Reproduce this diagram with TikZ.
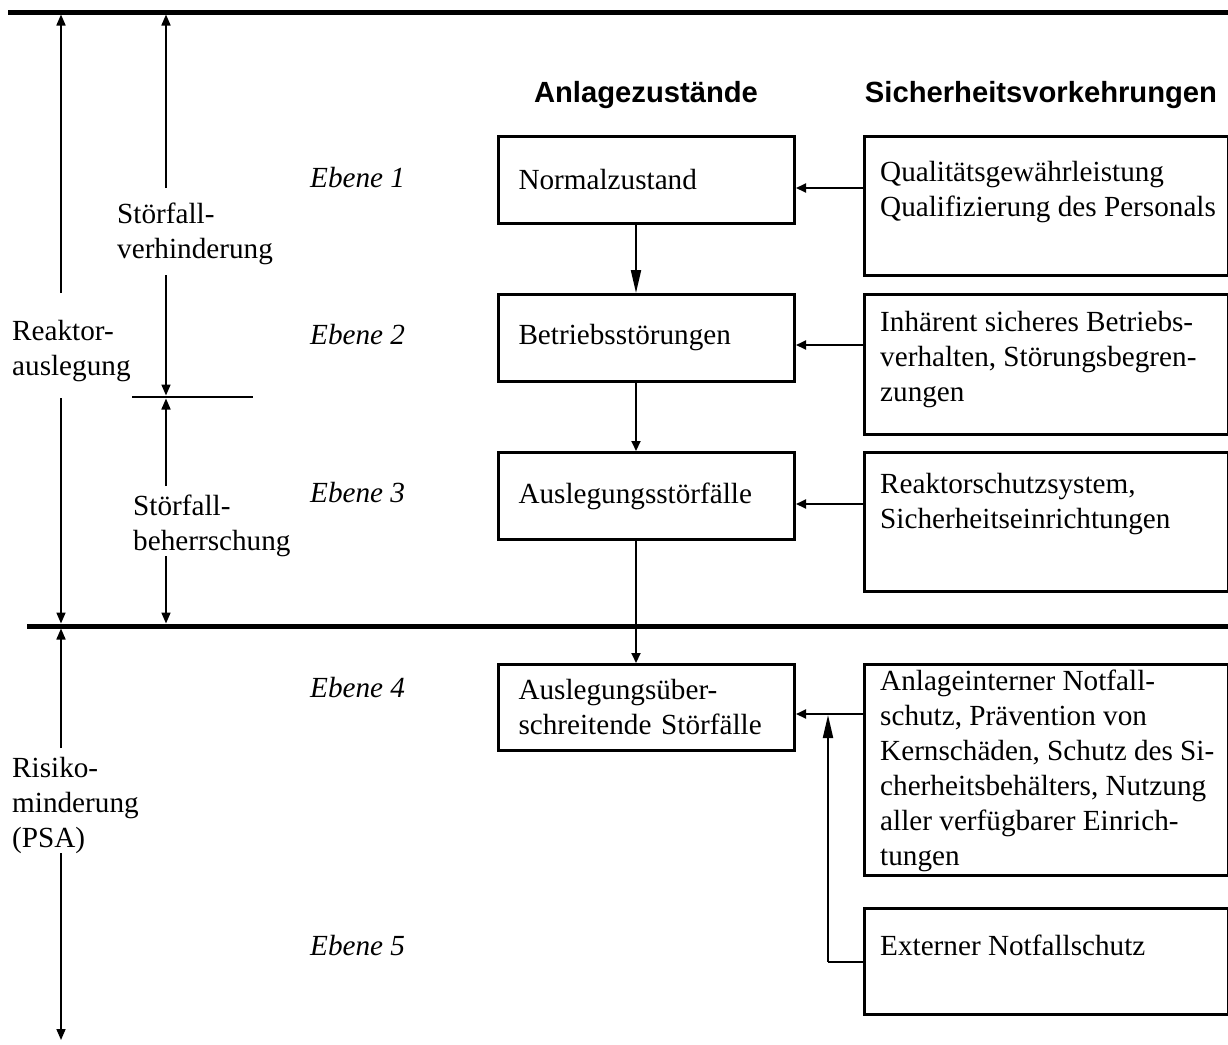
\documentclass[tikz,border=0pt]{standalone}
\usepackage{fontspec}
\setmainfont{Liberation Serif}
\setsansfont{Liberation Sans}
\usetikzlibrary{arrows.meta}
\newcommand{\fsz}{\fontsize{29.2}{35}\selectfont}

\begin{document}
\begin{tikzpicture}[
  x=1pt, y=-1pt,
  zbox/.style={draw, line width=3pt, anchor=north west, minimum width=296pt,
    minimum height=87pt, text width=256pt, inner xsep=20pt, align=left, font=\fsz},
  rbox/.style={draw, line width=3pt, anchor=north west, minimum width=364pt, inner sep=0pt},
  rtxt/.style={anchor=north west, align=left, inner sep=0pt, xshift=17pt, font=\fsz},
  lab/.style={anchor=north west, align=left, inner sep=0pt, font=\fsz},
  ebene/.style={anchor=base west, inner sep=0pt, font=\fsz\itshape},
  kopf/.style={anchor=base, inner sep=0pt, font=\fsz\sffamily\bfseries},
  dim/.style={line width=1.7pt, -{Triangle[length=11pt,width=9pt]}},
  flow/.style={line width=2pt, -{Triangle[length=10pt,width=9pt]}},
  flowl/.style={line width=2pt, -{Triangle[length=23pt,width=10pt]}}
]
\useasboundingbox (0,0) rectangle (1228,1044);

% Trennlinien
\draw[line width=5pt] (8,12) -- (1228,12);
\draw[line width=5pt] (27,626) -- (1228,626);
\draw[line width=2pt] (132,397) -- (253,397);

% Spaltenkoepfe
\node[kopf] (hz) at (646,102) {Anlagezustände};
\node[kopf] (hs) at (1041,102) {Sicherheitsvorkehrungen};

% Ebenen
\node[ebene] (e1) at (310,187) {Ebene 1};
\node[ebene] (e2) at (310,344) {Ebene 2};
\node[ebene] (e3) at (310,502) {Ebene 3};
\node[ebene] (e4) at (310,697) {Ebene 4};
\node[ebene] (e5) at (310,955) {Ebene 5};

% Anlagezustaende
\node[zbox] (b1) at (497,135) {Normalzustand};
\node[zbox] (b2) at (497,293) {Betriebsstörungen};
\node[zbox] (b3) at (497,451) {Auslegungsstörfälle};
\node[zbox, minimum height=86pt] (b4) at (497,663) {Auslegungsüber-\\schreitende Störfälle};

% Sicherheitsvorkehrungen
\node[rbox, minimum height=139pt,
  label={[rtxt, yshift=-26pt]north west:{Qualitätsgewährleistung\\Qualifizierung des Personals}}] (r1) at (863,135) {};
\node[rbox, minimum height=140pt,
  label={[rtxt, yshift=-18pt]north west:{Inhärent sicheres Betriebs-\\verhalten, Störungsbegren-\\zungen}}] (r2) at (863,293) {};
\node[rbox, minimum height=139pt,
  label={[rtxt, yshift=-22pt]north west:{Reaktorschutzsystem,\\Sicherheitseinrichtungen}}] (r3) at (863,451) {};
\node[rbox, minimum height=211pt,
  label={[rtxt, yshift=-7pt]north west:{Anlageinterner Notfall-\\schutz, Prävention von\\Kernschäden, Schutz des Si-\\cherheitsbehälters, Nutzung\\aller verfügbarer Einrich-\\tungen}}] (r4) at (863,663) {};
\node[rbox, minimum height=106pt,
  label={[rtxt, yshift=-28pt]north west:{Externer Notfallschutz}}] (r5) at (863,907) {};

% Pfeilhoehen
\coordinate (fx) at (636,0);
\coordinate (a1) at (0,188);
\coordinate (a2) at (0,345);
\coordinate (a3) at (0,504);
\coordinate (a4) at (0,714);
\coordinate (kx) at (828,0);

\draw[flowl] (b1.south -| fx) -- (b2.north -| fx);
\draw[flow] (b2.south -| fx) -- (b3.north -| fx);
\draw[flow] (b3.south -| fx) -- (b4.north -| fx);

\draw[flow] (r1.west |- a1) -- (b1.east |- a1);
\draw[flow] (r2.west |- a2) -- (b2.east |- a2);
\draw[flow] (r3.west |- a3) -- (b3.east |- a3);
\draw[flow] (r4.west |- a4) -- (b4.east |- a4);
\draw[line width=2pt] (r5.west) -- (r5.west -| kx);
\draw[flowl] (r5.west -| kx) -- ([yshift=-1pt]kx |- a4);

% Bemessungspfeile links
\node[lab] (reak) at (12,320) {Reaktor-\\auslegung};
\node[lab] (verh) at (117,203) {Störfall-\\verhinderung};
\node[lab] (beh) at (133,495) {Störfall-\\beherrschung};
\node[lab] (risk) at (12,757) {Risiko-\\minderung\\(PSA)};

\coordinate (rA) at (61,293);   \coordinate (rT) at (61,14.5);
\coordinate (rB) at (61,398);   \coordinate (rM) at (61,623.5);
\coordinate (kA) at (61,748);   \coordinate (kM) at (61,628.5);
\coordinate (kB) at (61,853);   \coordinate (kE) at (61,1040);
\coordinate (vA) at (166,188);  \coordinate (vT) at (166,14.5);
\coordinate (vB) at (166,275);  \coordinate (vS) at (166,395.5);
\coordinate (hA) at (166,486);  \coordinate (hS) at (166,398.5);
\coordinate (hB) at (166,556);  \coordinate (hM) at (166,623.5);

\draw[dim] (rA) -- (rT);
\draw[dim] (rB) -- (rM);
\draw[dim] (kA) -- (kM);
\draw[dim] (kB) -- (kE);
\draw[dim] (vA) -- (vT);
\draw[dim] (vB) -- (vS);
\draw[dim] (hA) -- (hS);
\draw[dim] (hB) -- (hM);
\end{tikzpicture}
\end{document}
